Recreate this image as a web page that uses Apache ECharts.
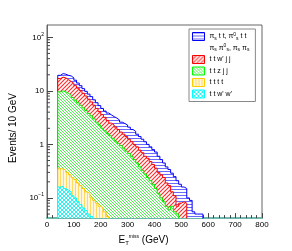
<!DOCTYPE html>
<html><head><meta charset="utf-8">
<script src="https://cdn.jsdelivr.net/npm/echarts@6/dist/echarts.min.js"></script>
<style>html,body{margin:0;padding:0;background:#fff}#c{width:292px;height:251px}</style>
</head><body><div id="c"></div>
<script>
// histogram bins: lower edges start at binStart, width binWidth (GeV)
const binStart = 40, binWidth = 10;
// stacked totals as drawn (top edge of each filled histogram)
const totalSignal = [19.5,21,20.5,19.5,19,17.5,15.8,14,12.5,11,9.8,8.7,7.8,6.8,6.0,5.3,4.7,4.2,3.85,3.55,3.3,3.1,2.85,2.6,2.45,2.3,2.1,1.9,1.75,1.55,1.4,1.25,1.12,1.0,0.9,0.8,0.72,0.6,0.52,0.45,0.38,0.34,0.29,0.25,0.21,0.18,0.16,0.15,0.1,0.09,0.055,0.05,0.05,0.05];
const ttwjj = [17,18,17.5,16.2,15,13.8,12.5,11.2,10.2,9,8,7,6.2,5.4,4.7,4.1,3.6,3.2,2.8,2.5,2.3,2.1,1.9,1.7,1.55,1.4,1.25,1.12,1.0,0.9,0.78,0.7,0.6,0.55,0.48,0.42,0.36,0.3,0.27,0.24,0.19,0.17,0.13,0.11,0.07,0.08,0.085,0.08];
const ttzjj = [9.6,10,9.6,9.0,8.3,7.5,6.7,6.0,5.4,4.8,4.3,3.8,3.4,3.0,2.6,2.3,2.0,1.8,1.6,1.45,1.3,1.15,1.05,0.95,0.85,0.75,0.68,0.6,0.52,0.45,0.38,0.33,0.28,0.24,0.21,0.18,0.15,0.12,0.1,0.085,0.07,0.06,0.07,0.055,0.05];
const tttt = [0.35,0.35,0.33,0.3,0.27,0.24,0.22,0.19,0.17,0.15,0.13,0.12,0.1,0.09,0.08,0.07,0.065,0.055,0.045];
const ttww = [0.16,0.165,0.15,0.14,0.13,0.11,0.1,0.085,0.075,0.065,0.058,0.05,0.045];
const legendLabels = ['π{sub|s} t t, π{sup|0}{sub|s} t t','π{sub|s} π{sup|0}{sub|s}, π{sub|s} π{sub|s}','t t w\' j j','t t z j j','t t t t','t t w\' w\''];
const xTicks = {min:0, max:800, interval:100};
const yRange = {min:0.042, max:170};
const yMinorTicks = [0.05,0.06,0.07,0.08,0.09,0.2,0.3,0.4,0.5,0.6,0.7,0.8,0.9,2,3,4,5,6,7,8,9,20,30,40,50,60,70,80,90];

function hatch(kind, color, bg, s, lw) {
  const c = document.createElement('canvas'); c.width = s; c.height = s;
  const g = c.getContext('2d');
  g.fillStyle = bg; g.fillRect(0,0,s,s);
  g.strokeStyle = color; g.lineWidth = lw || 1;
  g.beginPath();
  const fwd = () => { g.moveTo(0,s); g.lineTo(s,0); g.moveTo(-1,1); g.lineTo(1,-1); g.moveTo(s-1,s+1); g.lineTo(s+1,s-1); };
  const bwd = () => { g.moveTo(0,0); g.lineTo(s,s); g.moveTo(-1,s-1); g.lineTo(1,s+1); g.moveTo(s-1,-1); g.lineTo(s+1,1); };
  if (kind==='h'){ g.moveTo(0,0.5); g.lineTo(s,0.5); }
  else if (kind==='v'){ g.moveTo(0.5,0); g.lineTo(0.5,s); }
  else if (kind==='/') fwd();
  else if (kind==='\\') bwd();
  else { fwd(); bwd(); }
  g.stroke();
  return {image: c, repeat: 'repeat'};
}
const pBlue = hatch('h', '#6a6aff', '#ffffff', 3);
const pRed = hatch('/', '#ff2a2a', '#ffffff', 4, 1.1);
const pGreen = hatch('\\', '#50f050', '#ffffff', 3);
const pYellow = hatch('v', '#ffd860', '#fff6dc', 3);
const pCyan = hatch('x', '#30f0f0', '#ffffff', 4);

function steps(vals){
  const d = [[binStart, 1e-3]];
  vals.forEach((v,i) => d.push([binStart + i*binWidth, v]));
  const end = binStart + vals.length*binWidth;
  d.push([end, vals[vals.length-1]]);
  d.push([end, 1e-3]);
  return d;
}
function hist(name, vals, lineColor, pattern, z){
  return {name, type:'line', step:'end', data: steps(vals), symbol:'none', clip:true, z: z,
    lineStyle:{color: lineColor, width:1}, itemStyle:{color: lineColor},
    areaStyle:{color: pattern, opacity:1}, emphasis:{disabled:true}, animation:false};
}
const names = ['s1','s2','r','g','y','c'];
const chart = echarts.init(document.getElementById('c'), null, {renderer:'canvas'});
const FONT = 'Liberation Sans';
chart.setOption({
  animation:false,
  textStyle:{fontFamily:FONT},
  grid:{left:29, right:30, top:25, bottom:25, show:true, borderColor:'#666', borderWidth:1, backgroundColor:'transparent'},
  xAxis:{type:'value', min:xTicks.min, max:xTicks.max, interval:xTicks.interval,
    name:'E{sub|T}{sup|miss} (GeV)', nameLocation:'middle', nameGap:14,
    nameTextStyle:{fontSize:10, color:'#000', fontFamily:FONT, padding:[0,22,0,0], rich:{sub:{fontSize:6, padding:[6,0,0,0]}, sup:{fontSize:5, padding:[0,0,7,0]}}},
    axisLine:{show:true, lineStyle:{color:'#6db8ad', width:2}},
    axisTick:{show:true, inside:true, length:5, lineStyle:{color:'#444'}},
    minorTick:{show:true, splitNumber:5, length:3, lineStyle:{color:'#444'}},
    splitLine:{show:false},
    axisLabel:{fontSize:8, color:'#000', margin:3, fontFamily:FONT, showMaxLabel:true, showMinLabel:true}
  },
  yAxis:{type:'log', logBase:10, min:yRange.min, max:yRange.max,
    name:'Events/ 10 GeV', nameLocation:'middle', nameGap:29, nameRotate:90,
    nameTextStyle:{fontSize:10, color:'#000', fontFamily:FONT, padding:[0,13,0,0]},
    axisLine:{show:true, lineStyle:{color:'#666', width:1}},
    axisTick:{show:true, inside:true, length:6, lineStyle:{color:'#444'}},
    splitLine:{show:false},
    axisLabel:{fontSize:8, color:'#000', margin:3, fontFamily:FONT, showMinLabel:false, showMaxLabel:false,
      formatter: v => { const e = Math.round(Math.log10(v)); if (e===0) return '1'; if (e===1) return '10'; return '10{sup|' + (e<0 ? '\u2212'+(-e) : e) + '}'; },
      rich:{sup:{fontSize:5, padding:[0,0,6,0]}}}
  },
  legend:{orient:'vertical', left:189, top:29, padding:[3,6,3,3], itemGap:2.5, itemWidth:12, itemHeight:8,
    backgroundColor:'#fff', borderColor:'#888', borderWidth:1, borderRadius:0, selectedMode:false,
    textStyle:{fontSize:7, color:'#000', fontFamily:FONT, rich:{sub:{fontSize:5, padding:[4,0,0,0]}, sup:{fontSize:5, padding:[0,0,4,0]}}},
    formatter: n => legendLabels[names.indexOf(n)],
    data:[
      {name:'s1', icon:'rect', itemStyle:{color:pBlue, borderColor:'#0000ff', borderWidth:1}},
      {name:'s2', icon:'none'},
      {name:'r', icon:'rect', itemStyle:{color:pRed, borderColor:'#ff0000', borderWidth:1}},
      {name:'g', icon:'rect', itemStyle:{color:pGreen, borderColor:'#00ff00', borderWidth:1}},
      {name:'y', icon:'rect', itemStyle:{color:pYellow, borderColor:'#ffcc00', borderWidth:1}},
      {name:'c', icon:'rect', itemStyle:{color:pCyan, borderColor:'#00ffff', borderWidth:1}}
    ]},
  series:[
    hist('s1', totalSignal, '#0000ff', pBlue, 1),
    {name:'s2', type:'line', data:[], symbol:'none'},
    hist('r', ttwjj, '#ff0000', pRed, 2),
    hist('g', ttzjj, '#00ee00', pGreen, 3),
    hist('y', tttt, '#ffc800', pYellow, 4),
    hist('c', ttww, '#00ffff', pCyan, 5),
    {type:'custom', silent:true, clip:false, z:6, data: yMinorTicks.map(v => [0, v]),
      renderItem:(params, api) => { const p = api.coord([api.value(0), api.value(1)]);
        return {type:'line', shape:{x1:p[0], y1:p[1], x2:p[0]+3, y2:p[1]}, style:{stroke:'#444', lineWidth:1}}; }}
  ]
});
</script></body></html>
